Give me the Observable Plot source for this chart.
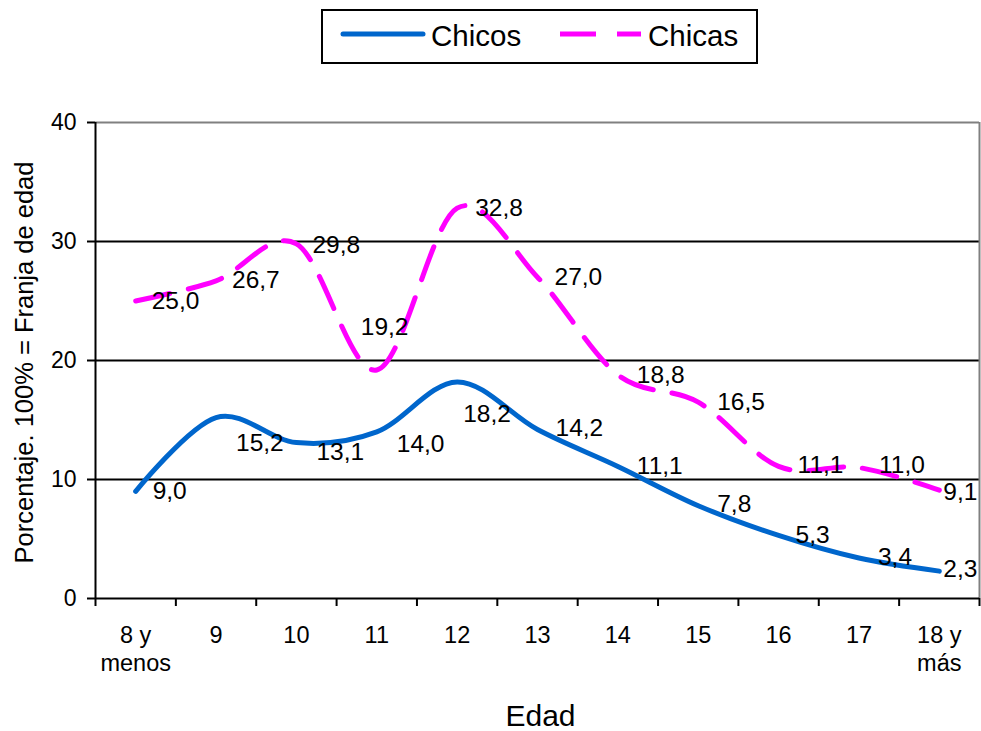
<!DOCTYPE html>
<html>
<head>
<meta charset="utf-8">
<script src="https://cdn.jsdelivr.net/npm/d3@7"></script>
<script src="https://cdn.jsdelivr.net/npm/@observablehq/plot@0.6"></script>
<style>
  html, body { margin: 0; padding: 0; background: #fff; }
  #wrap { width: 981px; font-family: "Liberation Sans", Arial, sans-serif; }
  #legend { display: block; }
  #chart svg { display: block; }
</style>
</head>
<body>
<div id="wrap">
  <svg id="legend" width="981" height="70" font-family="Liberation Sans, Arial, sans-serif">
    <rect x="322" y="10" width="435" height="53" fill="#fff" stroke="#000" stroke-width="2"></rect>
    <line x1="343" x2="423" y1="34" y2="34" stroke="#0066CC" stroke-width="5" stroke-linecap="round"></line>
    <text x="431" y="46" font-size="29.5" fill="#000">Chicos</text>
    <line x1="560" x2="596" y1="34" y2="34" stroke="#FF00FF" stroke-width="5"></line>
    <line x1="617" x2="641" y1="34" y2="34" stroke="#FF00FF" stroke-width="5"></line>
    <text x="648" y="46" font-size="29.5" fill="#000">Chicas</text>
  </svg>
  <div id="chart"></div>
</div>
<script>
// ---- data ----
const categories = ["8 y\nmenos", "9", "10", "11", "12", "13", "14", "15", "16", "17", "18 y\nmás"];
const chicos = [9.0, 15.2, 13.1, 14.0, 18.2, 14.2, 11.1, 7.8, 5.3, 3.4, 2.3];
const chicas = [25.0, 26.7, 29.8, 19.2, 32.8, 27.0, 18.8, 16.5, 11.1, 11.0, 9.1];
const yTicks = [0, 10, 20, 30, 40];
const seriesNames = ["Chicos", "Chicas"];
const xTitle = "Edad";
const yTitle = "Porcentaje. 100% = Franja de edad";

// label offsets (pixels) as placed in the original chart
const chicosDx = [17, 20, 20, 20, 6, 18, 19, 19, 17, 19, 4];
const chicosDy = [0, 26, 10, 12, 32, -1, 0, -2, 0, -1, -2];
const chicasDx = [16, 16, 16, -16, 18, 17, 19, 19, 19, 20, 4];
const chicasDy = [0, -1, 1, -43, 0, 0, 0, 0, -1, -2, 2];

const rows = categories.map((c, i) => ({i, c, chicos: chicos[i], chicas: chicas[i]}));
const boundaries = d3.range(categories.length + 1).map(k => k - 0.5);
const fmt = v => v.toFixed(1).replace(".", ",");

const labelMarks = [];
rows.forEach((r, i) => {
  labelMarks.push(Plot.text([r], {x: "i", y: "chicos", text: d => fmt(d.chicos), textAnchor: "start",
    dx: chicosDx[i], dy: chicosDy[i], fontSize: 24.5, fill: "#000", lineAnchor: "middle"}));
  labelMarks.push(Plot.text([r], {x: "i", y: "chicas", text: d => fmt(d.chicas), textAnchor: "start",
    dx: chicasDx[i], dy: chicasDy[i], fontSize: 24.5, fill: "#000", lineAnchor: "middle"}));
});

const chart = Plot.plot({
  width: 981,
  height: 661,
  marginLeft: 95,
  marginRight: 2,
  marginTop: 52,
  marginBottom: 133,
  style: {fontFamily: "Liberation Sans, Arial, sans-serif", color: "#000", background: "#fff", overflow: "visible"},
  x: {type: "linear", domain: [-0.5, categories.length - 0.5]},
  y: {domain: [0, 40]},
  marks: [
    Plot.ruleY(yTicks.filter(t => t > 0 && t < 40), {stroke: "#000", strokeWidth: 2}),
    Plot.ruleY([40], {stroke: "#808080", strokeWidth: 2}),
    Plot.ruleX([categories.length - 0.5], {stroke: "#808080", strokeWidth: 2}),
    Plot.axisY({ticks: yTicks, tickSize: 8, tickPadding: 11, fontSize: 23, tickFormat: d => String(d), label: null, strokeWidth: 2}),
    Plot.axisX({ticks: boundaries, tickSize: 8, tickFormat: () => "", label: null, strokeWidth: 2}),
    Plot.axisX({ticks: d3.range(categories.length), tickSize: 0, tickPadding: 25, tickFormat: i => categories[i],
      fontSize: 23.5, lineHeight: 1.17, label: null}),
    Plot.ruleY([0], {stroke: "#000", strokeWidth: 2}),
    Plot.ruleX([-0.5], {stroke: "#000", strokeWidth: 2}),
    Plot.line(rows, {x: "i", y: "chicas", curve: "cardinal", stroke: "#FF00FF", strokeWidth: 5, strokeDasharray: "35,19"}),
    Plot.line(rows, {x: "i", y: "chicos", curve: "cardinal", stroke: "#0066CC", strokeWidth: 5, strokeLinecap: "round"}),
    ...labelMarks,
    Plot.text([xTitle], {frameAnchor: "bottom", dy: 118, dx: 3, fontSize: 30, fill: "#000", lineAnchor: "middle"}),
    Plot.text([yTitle], {frameAnchor: "left", rotate: -90, dx: -71, dy: 2, fontSize: 25.5, fill: "#000",
      textAnchor: "middle", lineAnchor: "middle"})
  ]
});
document.getElementById("chart").appendChild(chart);
</script>
</body>
</html>
